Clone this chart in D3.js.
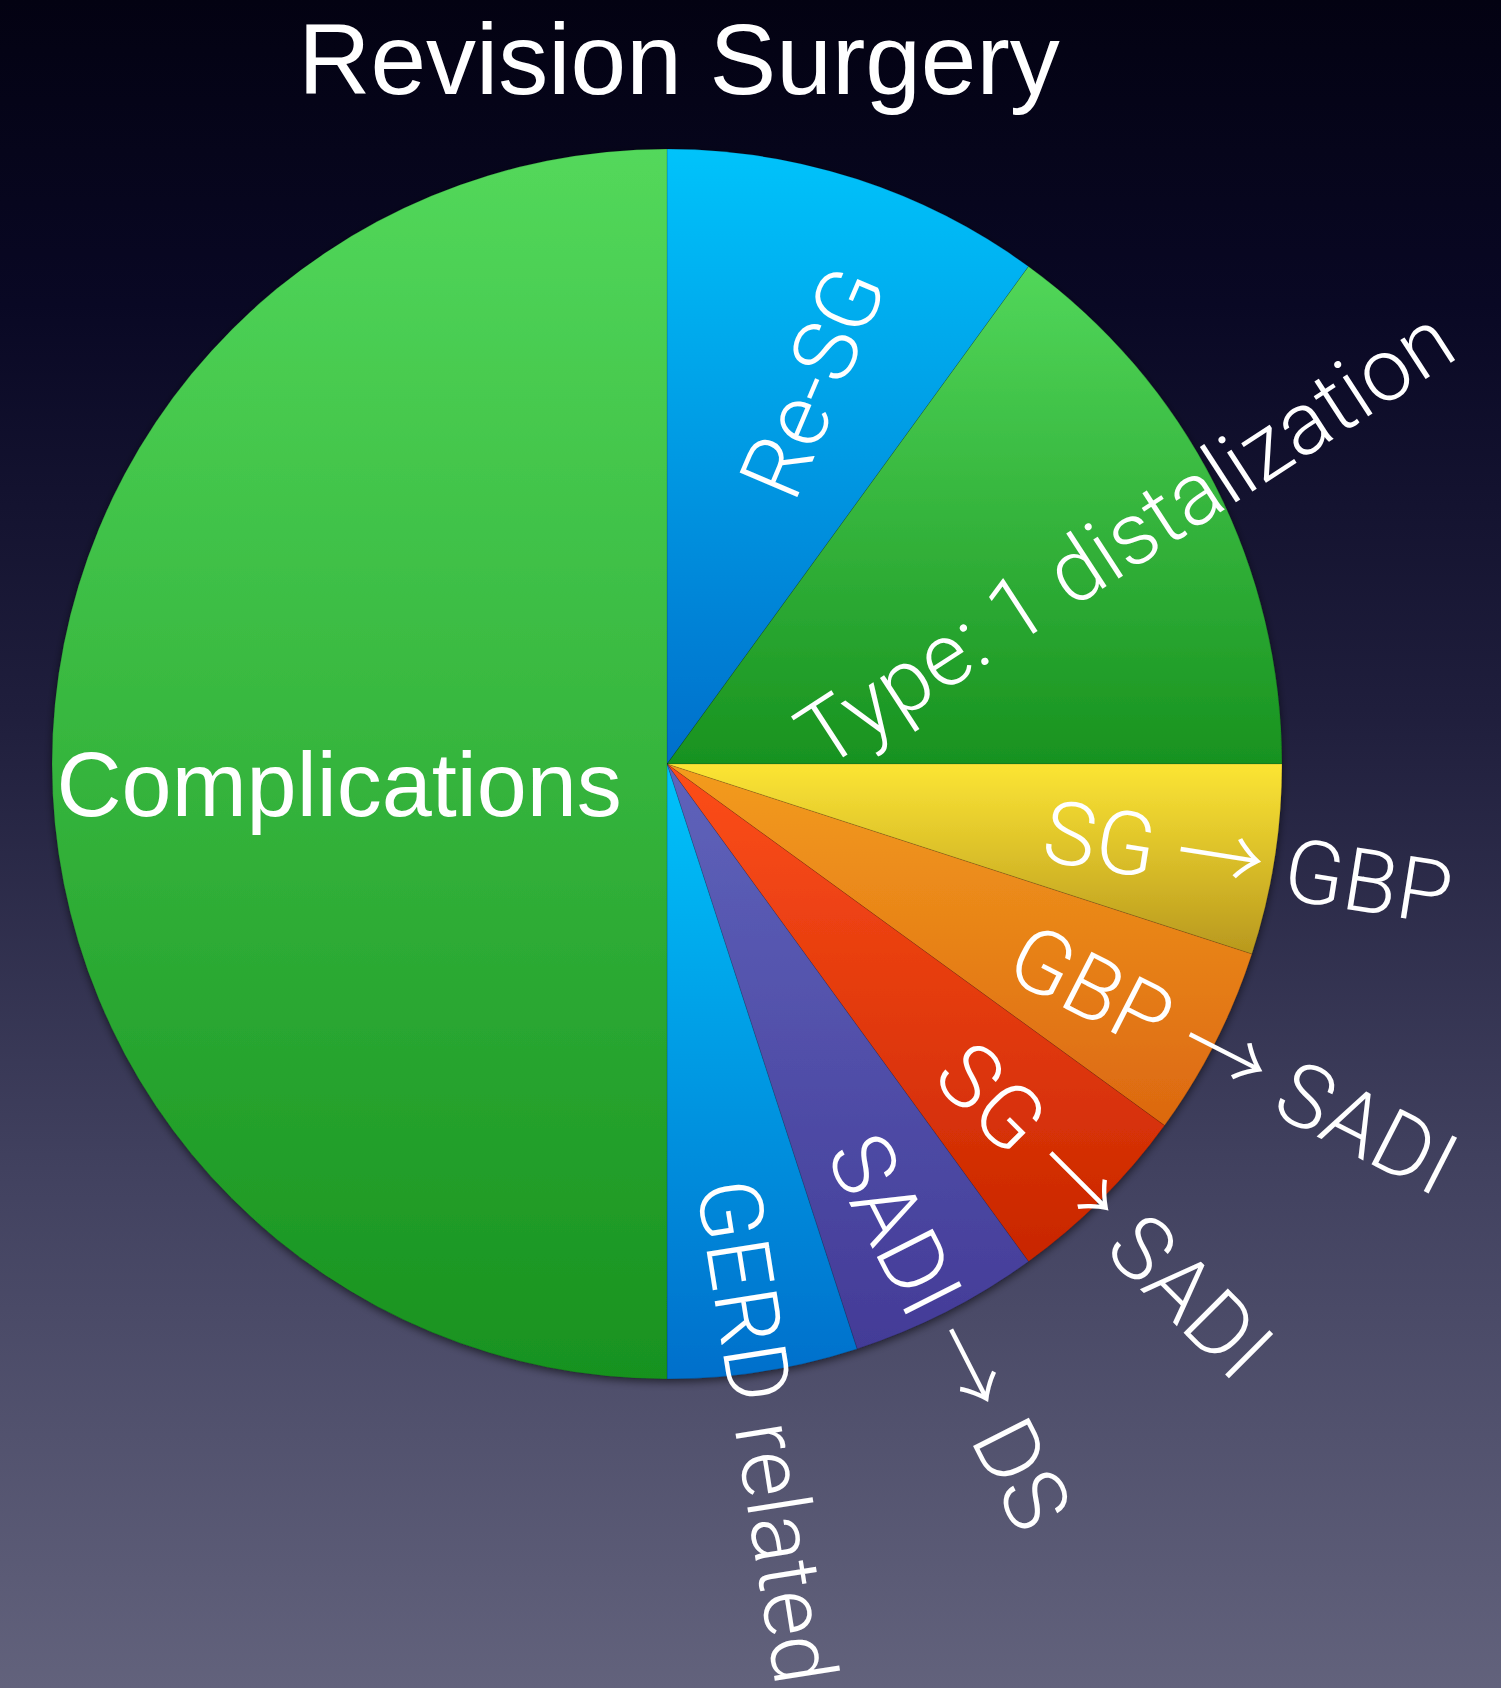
<!DOCTYPE html>
<html><head><meta charset="utf-8">
<script src="https://cdn.jsdelivr.net/npm/d3@7"></script>
<style>html,body{margin:0;padding:0;background:#05041a;overflow:hidden} svg{display:block}</style>
</head><body>
<svg id="chart" width="1501" height="1688"></svg>
<script>
// ---- data ----
const chartTitle = "Revision Surgery";
const categories = ["Re-SG", "Type: 1 distalization", "SG \u2192 GBP", "GBP \u2192 SADI", "SG \u2192 SADI", "SADI \u2192 DS", "GERD related", "Complications"];
const values = [10, 15, 5, 5, 5, 5, 5, 50];

// ---- styles / layout ----
const topColors    = ["#00c3fb", "#52d75a", "#fce534", "#f39c1f", "#fd4e1a", "#5f63bb", "#00c3fb", "#53d85b"];
const bottomColors = ["#006fcb", "#18921f", "#b8981e", "#dc6810", "#c82600", "#433b97", "#006fcb", "#18921f"];
const labelRadius  = [0.665, 0.83, 0.958, 1.039, 1.016, 1.031, 1.097, 0.533];
const labelRotAdj  = [5, -6, 0, 0, 0, 0, 0, 0];
const labelPosAdj  = [2, 0, 0, 0, 0, 0, 0, 0];

const W = 1501, H = 1688, cx = 667, cy = 764, R = 615;
const svg = d3.select("#chart");
const defs = svg.append("defs");

const bg = defs.append("linearGradient").attr("id", "bg").attr("x1", 0).attr("y1", 0).attr("x2", 0).attr("y2", 1);
[[0, "#030212"], [0.18, "#090824"], [0.42, "#1f1e3c"], [0.7, "#424260"], [1, "#62627c"]]
  .forEach(([o, c]) => bg.append("stop").attr("offset", o).attr("stop-color", c));
svg.append("rect").attr("width", W).attr("height", H).attr("fill", "url(#bg)");

const shadow = defs.append("filter").attr("id", "shadow").attr("x", "-10%").attr("y", "-10%").attr("width", "120%").attr("height", "120%");
shadow.append("feDropShadow").attr("dx", 0).attr("dy", 3).attr("stdDeviation", 4)
  .attr("flood-color", "#000").attr("flood-opacity", 0.55);

categories.forEach((c, i) => {
  const g = defs.append("linearGradient").attr("id", "sg" + i).attr("x1", 0).attr("y1", 0).attr("x2", 0).attr("y2", 1);
  g.append("stop").attr("offset", 0).attr("stop-color", topColors[i]);
  g.append("stop").attr("offset", 1).attr("stop-color", bottomColors[i]);
});

const data = categories.map((c, i) => ({ name: c, value: values[i], i }));
const pie = d3.pie().sort(null).value(d => d.value);
const arcs = pie(data);
const arc = d3.arc().innerRadius(0).outerRadius(R);

const gPie = svg.append("g").attr("transform", `translate(${cx},${cy})`);
gPie.append("g").attr("filter", "url(#shadow)")
  .selectAll("path").data(arcs).join("path")
  .attr("d", arc)
  .attr("fill", d => `url(#sg${d.data.i})`)
  .attr("stroke", "rgba(0,0,0,0.18)")
  .attr("stroke-width", 0.8);

// labels
const labels = gPie.append("g");
arcs.forEach(a => {
  const i = a.data.i;
  const rr = labelRadius[i] * R;
  const adj = labelPosAdj[i] * Math.PI / 180;
  const la = d3.arc().innerRadius(rr).outerRadius(rr);
  const [x, y] = la.centroid({ startAngle: a.startAngle + adj, endAngle: a.endAngle + adj });
  const mid = (a.startAngle + a.endAngle) / 2 * 180 / Math.PI;
  if (mid > 180) {
    labels.append("text")
      .attr("x", x).attr("y", y).attr("dy", "0.58em")
      .attr("text-anchor", "middle")
      .attr("font-family", "'Liberation Sans', Arial, Helvetica, sans-serif")
      .attr("font-size", 90).attr("fill", "#fff")
      .text(a.data.name);
  } else {
    const rot = mid - 90 + labelRotAdj[i];
    const t = labels.append("text")
      .attr("transform", `translate(${x},${y}) rotate(${rot})`)
      .attr("dy", "0.42em")
      .attr("text-anchor", "middle")
      .attr("font-family", "Roboto, 'Open Sans', 'Liberation Sans', sans-serif")
      .attr("font-weight", 300)
      .attr("font-size", 88).attr("fill", "#fff");
    const parts = a.data.name.split("\u2192");
    parts.forEach((p, k) => {
      t.append("tspan").text(p);
      if (k < parts.length - 1) {
        t.append("tspan")
          .attr("font-family", "'Noto Sans CJK JP', 'DejaVu Sans', sans-serif")
          .attr("font-weight", 300)
          .attr("font-size", 88)
          .text("\u2192");
      }
    });
  }
});

svg.append("text")
  .attr("x", 679).attr("y", 94)
  .attr("text-anchor", "middle")
  .attr("font-family", "'Liberation Sans', Arial, Helvetica, sans-serif")
  .attr("font-size", 100).attr("fill", "#fff")
  .text(chartTitle);
</script>
</body></html>
